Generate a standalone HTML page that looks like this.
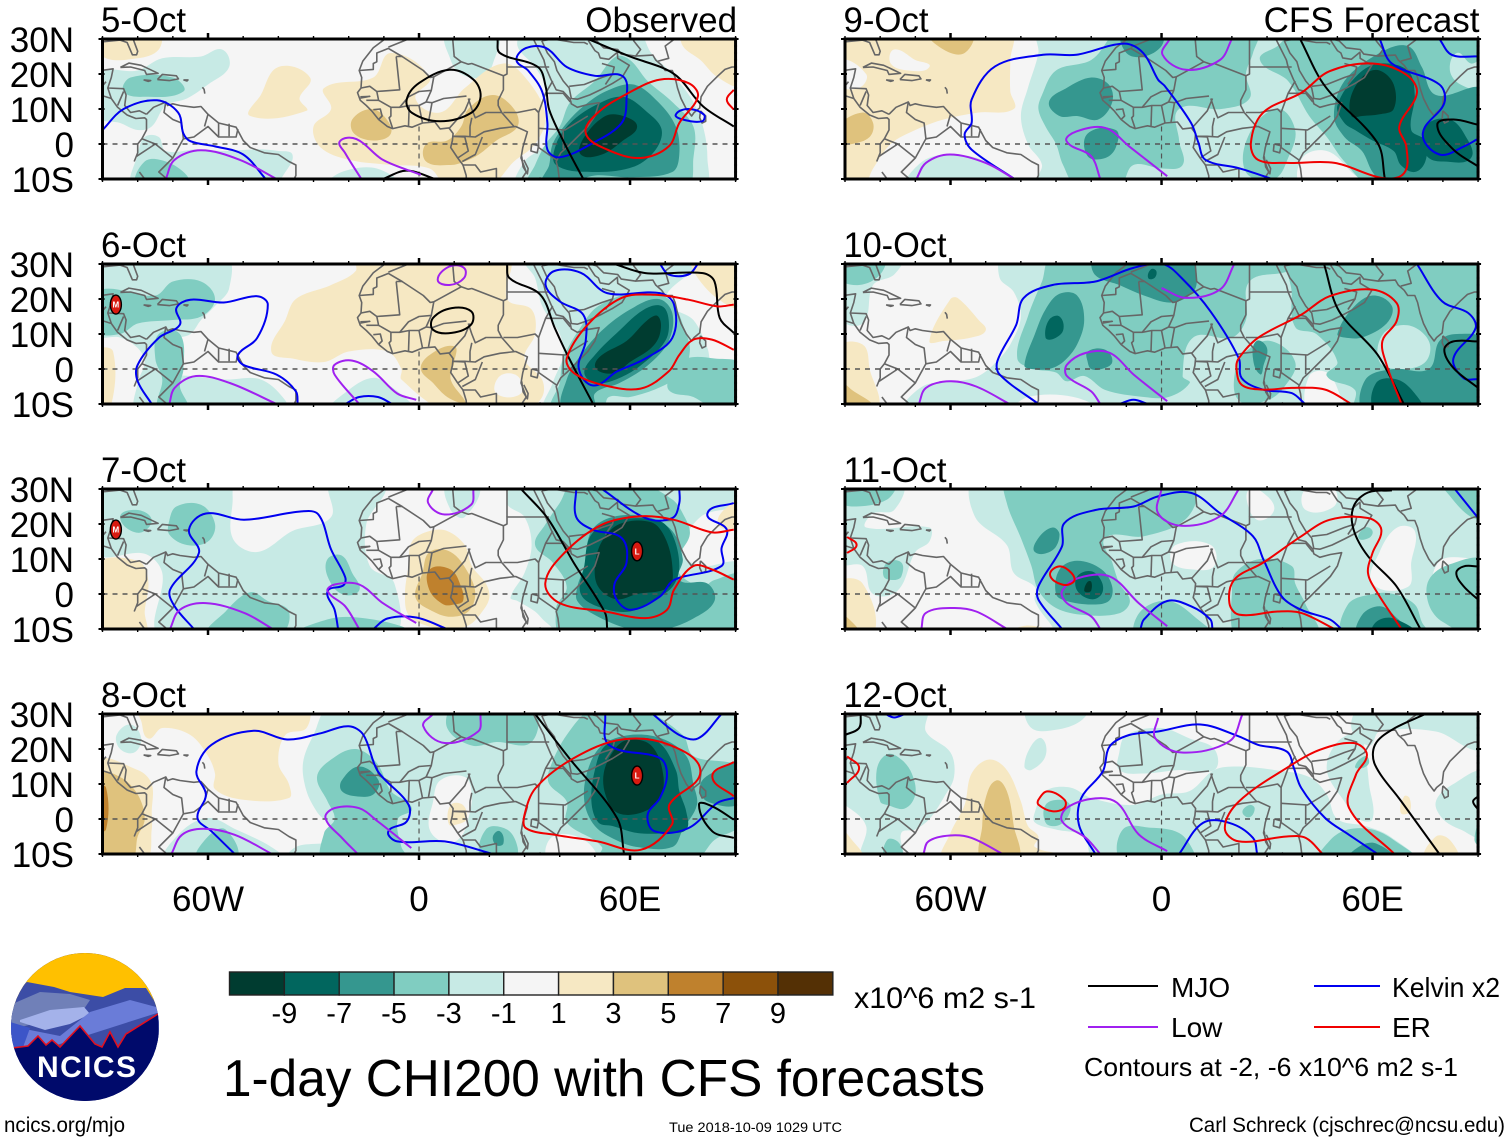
<!DOCTYPE html>
<html lang="en">
<head>
<meta charset="utf-8">
<title>1-day CHI200 with CFS forecasts</title>
<style>
html,body{margin:0;padding:0;background:#fff;width:1510px;height:1142px;overflow:hidden}
svg{display:block;font-family:"Liberation Sans",sans-serif}
</style>
</head>
<body>
<svg id="chart" xmlns="http://www.w3.org/2000/svg" width="1510" height="1142" viewBox="0 0 1510 1142">
  <rect width="1510" height="1142" fill="#fff"/>
  <g id="panels"></g>
  <g id="colorbar"></g>
  <text x="854" y="1008" font-size="29.5" textLength="182" lengthAdjust="spacingAndGlyphs">x10^6 m2 s-1</text>
  <text x="223" y="1096" font-size="52" textLength="762" lengthAdjust="spacingAndGlyphs">1-day CHI200 with CFS forecasts</text>

  <g>
    <line x1="1088" x2="1158" y1="986" y2="986" stroke="#000" stroke-width="2"/>
    <text x="1171" y="997" font-size="28">MJO</text>
    <line x1="1314" x2="1380" y1="986" y2="986" stroke="#0000f0" stroke-width="2"/>
    <text x="1392" y="997" font-size="28" textLength="108" lengthAdjust="spacingAndGlyphs">Kelvin x2</text>
    <line x1="1088" x2="1158" y1="1027" y2="1027" stroke="#a020f0" stroke-width="2"/>
    <text x="1171" y="1037" font-size="28">Low</text>
    <line x1="1314" x2="1380" y1="1027" y2="1027" stroke="#f00000" stroke-width="2"/>
    <text x="1392" y="1037" font-size="28">ER</text>
    <text x="1084" y="1076" font-size="26" textLength="374" lengthAdjust="spacingAndGlyphs">Contours at -2, -6 x10^6 m2 s-1</text>
  </g>

  <g>
    <clipPath id="logoClip"><circle cx="85" cy="1027" r="74"/></clipPath>
    <g clip-path="url(#logoClip)">
      <rect x="10" y="950" width="150" height="155" fill="#000a6b"/>
      <rect x="10" y="950" width="150" height="60" fill="#ffc000"/>
      <path d="M10 995 L27 982 L54 987 L70 992 L103 997 L125 988 L146 988 L160 1010 L160 1050 L10 1050Z" fill="#3c4da6"/>
      <path d="M10 1005 L40 992 L70 994 L90 1000 L82 1012 L40 1022 L10 1030Z" fill="#7080b8"/>
      <path d="M20 1020 L50 1010 L84 1007 L90 1014 L70 1024 L45 1030 L20 1022Z" fill="#a4b2ea"/>
      <path d="M10 1025 L30 1030 L60 1036 L90 1012 L130 1000 L160 1008 L160 1012 L10 1060Z" fill="#6a7cd8"/>
      <path d="M10 1022 L30 1028 L22 1050 L10 1052Z" fill="#3c55c8"/>
      <path d="M12 1048 L28 1046 L38 1036 L46 1045 L52 1040 L60 1047 L80 1026 L95 1044 L102 1047 L110 1032 L118 1047 L126 1034 L158 1014 L160 1110 L10 1110Z" fill="#000a6b"/>
      <path d="M12 1048 L28 1046 L38 1036 L46 1045 L52 1040 L60 1047 L80 1026 L95 1044 L102 1047 L110 1032 L118 1047 L126 1034 L158 1014" fill="none" stroke="#e01020" stroke-width="1.6"/>
    </g>
    <text x="37" y="1077" font-size="30" font-weight="700" fill="#fff" textLength="99" lengthAdjust="spacing">NCICS</text>
  </g>

  <text x="4" y="1132" font-size="21" textLength="121" lengthAdjust="spacingAndGlyphs">ncics.org/mjo</text>
  <text x="669" y="1132" font-size="14" textLength="173" lengthAdjust="spacingAndGlyphs">Tue 2018-10-09 1029 UTC</text>
  <text x="1189" y="1132" font-size="21" textLength="316" lengthAdjust="spacingAndGlyphs">Carl Schreck (cjschrec@ncsu.edu)</text>
</svg>

<script>
/* ---------- categories and ticks ---------- */
const panelDates = ['5-Oct','6-Oct','7-Oct','8-Oct','9-Oct','10-Oct','11-Oct','12-Oct'];
const latTickValues = [30,20,10,0,-10];
const latTickLabels = ['30N','20N','10N','0','10S'];
const lonTickValues = [-60,0,60];
const lonTickLabels = ['60W','0','60E'];
const colorbarTicks = [-9,-7,-5,-3,-1,1,3,5,7,9];
const colorbarLevels = [-10,-8,-6,-4,-2,0,2,4,6,8,10];
const levelColors = {'-10':'#003c30','-8':'#01665e','-6':'#35978f','-4':'#80cdc1','-2':'#c7eae5','0':'#f5f5f5','2':'#f6e8c3','4':'#dfc27d','6':'#bf812d','8':'#8c510a','10':'#543005'};
const seriesColors = {mjo:'#000000',kelvin:'#0000f0',low:'#a020f0',er:'#f00000'};

/* ---------- geography, [lon,lat] ---------- */
const coastlines = [
 [[-9.7,30],[-13,27.5],[-16,23.7],[-17,21],[-16.3,19],[-16.5,16],[-17.5,14.7],[-16.7,12.5],[-15,11],[-13.5,9.5],[-11.5,7],[-9,5],[-7.5,4.4],[-4,5.2],[-2,4.8],[1,6],[4.5,6.3],[6,4.3],[8.5,4.6],[9.7,3],[9.5,1],[9,-1],[11,-4],[12.5,-6],[13.4,-9],[13.5,-11]],
 [[40,-11],[39.5,-7],[39,-5],[40.3,-2.5],[42,-1],[45,2],[48,5],[50,8],[51.2,11.8],[48,11.3],[45,10.5],[43.3,11.5],[43,12.8],[41,15],[39,15.5],[37.5,18.5],[36,22],[35.5,24],[34,27],[32.6,29.8],[32.6,31]],
 [[34.9,29.5],[36.5,26],[38.5,23.5],[39.2,21],[41,18],[42.7,16],[43.3,13],[45,12.8],[48.5,14],[52,15.7],[55,17.3],[57.7,19],[59.8,22.5],[56.5,24.5],[56.4,26.2],[54,24.2],[51.5,24.6],[51,26],[50,26.7],[48.2,29.5],[48.5,30],[50.5,29.5],[52.5,27.5],[56.5,27],[57.5,25.7],[61.5,25.1],[66.5,25.4],[67.3,24],[69,22.5],[70,21],[72,21],[72.8,19],[73.5,16],[74.5,13],[76,10],[77.5,8],[78.2,9],[79.8,10.3],[80.2,13.5],[82,16.5],[85,19.5],[87,21.3],[89,22],[91,22]],
 [[80,9.5],[81.5,8],[81.5,6.5],[80.5,6],[79.8,7.5],[80,9.5]],
 [[-81,-5],[-80,-2.5],[-80,0],[-78.8,1.5],[-77.5,4],[-77.5,7],[-78,7.5],[-80.5,7.3],[-83,8.3],[-85.7,10.5],[-87.5,13],[-90,13.8],[-92,14.5]],
 [[-79.5,-8],[-78,-10],[-77,-12]],
 [[-77.5,8.5],[-79.5,9.5],[-82,9],[-83.7,11],[-83.3,14],[-84,15.8],[-88.5,16],[-87.5,19],[-87,21.5],[-90.4,21],[-92,19]],
 [[-77.5,8.5],[-75.5,10.5],[-72,12],[-71.5,11],[-70,11.5],[-68,11],[-64,10.5],[-62,10.7],[-60,8.5],[-57,6],[-52,4.8],[-50,1],[-48,-1],[-44,-2.5],[-40,-3],[-37,-5],[-35,-6],[-35,-9],[-36,-11]],
 [[-92,29.5],[-90,29.2],[-85,29.7],[-83,29],[-81.5,25.5],[-80.3,25.5],[-80,26.5],[-81.3,30]],
 [[-84.9,21.9],[-82.5,23.1],[-79,22.5],[-74.2,20.2],[-77.5,19.9],[-78,21],[-82,22],[-84.9,21.9]],
 [[-74.4,18.4],[-73,19.9],[-69,19.5],[-68.4,18.6],[-71,18.1],[-74.4,18.4]],
 [[-78.3,18.3],[-76.3,18.1],[-77,17.9],[-78.3,18.3]],
 [[-67,18.3],[-65.7,18.3],[-66,18],[-67,18.3]],
 [[-61.6,16.2],[-61.1,15.6],[-60.9,14.4]],
 [[32,0],[34,-0.5],[33.6,-2.5],[31.8,-2],[32,0]],
 [[29.2,-3.5],[29.6,-6.5],[30.8,-8.5],[31,-7],[29.8,-4.5]],
 [[34.3,-9.5],[34.8,-11],[34,-11]]
];
const countryBorders = [
 [[-17,21],[-13,21.3],[-13,23],[-12,23.5],[-12,26],[-8.7,27.3],[-4.8,25],[-6.5,25]],
 [[-4.8,25],[1.2,21],[3.2,19],[4.2,19.2],[12,23.5],[14,22.8],[15,23],[24,19.5],[25,20],[25,22],[37,22]],
 [[25,22],[25,31]],[[9.5,31],[10,25],[12,23.5]],[[-8.7,27.7],[-3,30],[-2,31]],
 [[-12,15],[-5.5,15.5],[-6.5,25]],[[-12,15],[-11.5,12.5],[-8,10.5],[-8,8],[-8.5,7.5],[-7.5,4.4]],
 [[-16.5,16],[-14,16.5],[-12,15]],[[-15,12.5],[-11.5,12.5]],[[-16.7,13.5],[-14,13.6],[-16.7,13.1]],
 [[-13,9.8],[-11,10],[-10.5,8],[-11.5,7]],
 [[-8,10.5],[-5.5,10.5],[-2.8,11],[0,11],[2,12],[3.7,11.8]],[[-5.5,10.5],[-3,13.5],[0,15],[3.5,15.3],[4.2,19.2]],
 [[-3,5],[-2.8,11]],[[0,11],[1,6]],[[2.7,6.3],[3.7,11.8],[7,13],[13.5,13.7]],[[2,12],[3.5,15.3]],
 [[8.7,4.6],[13,9.5],[14.5,13]],[[14,13],[15,10],[16,7.5],[19,9],[23.5,9]],[[24,19.5],[24,15.5],[22.5,12.5],[22.5,11],[23.5,9],[27,5]],
 [[14.5,5],[15,7.5]],[[9.7,2.2],[13,2.2],[16,2],[18.5,3.5],[23,4.5],[27.5,5],[30.8,3.5],[29.5,-1],[29,-4],[30.5,-8],[28.5,-11]],
 [[24,9],[28,9],[33,10],[34,9]],[[34,9],[36,14.5],[38,18]],[[36,14.5],[41,14.5],[43,12]],[[34,4.5],[41.5,4],[48,8]],[[41,-1.5],[41,4]],[[34,-1],[34,4.5],[34,9]],[[34,-1],[39.3,-4.7]],
 [[14.5,5],[14.5,2.2]],[[9.7,2.2],[13,2],[14,-2],[11,-4]],[[12.3,-5],[16,-3],[18,2]],[[12.3,-6],[16,-6],[17.5,-8],[22,-7],[22,-11]],[[22,-11],[28.5,-11]],
 [[34.9,29.5],[38,30],[44,29],[47,29],[48,28.5]],[[42.7,16.5],[47,17],[52,19],[55,20],[55.5,22],[52,23]],[[55,20],[53,17]],
 [[61.5,25],[63,27],[61,29.5],[62,31]],[[68,23.7],[71,24.5],[70,28],[74,31]],
 [[-72,12],[-72.5,9],[-70,7],[-67.5,6],[-67,1.5],[-64,2],[-60,5],[-57,2],[-52,2],[-51.5,4.3]],[[-60,8.5],[-61,5]],[[-57,6],[-57,2]],[[-54,5.8],[-54,2.2]],
 [[-78.8,1.5],[-75,0],[-80.3,-3.5]],[[-75,0],[-70,-4],[-73,-7],[-74,-8],[-70.5,-11]],[[-70,-4],[-67,1.5]],
 [[-92,14.5],[-90.5,16],[-89,17.8]],[[-88.5,16],[-87.5,13]],[[-84,15],[-85.7,11]]
];

/* ---------- 5-Oct ---------- */
const oct5Fill = [
 [-2,[[28,-12],[30,-5],[36,0],[36,6],[37,14],[33,22],[28,28],[30,32],[62,32],[66,26],[72,20],[78,12],[81,4],[82,-4],[81,-12]]],
 [-2,[[-92,20],[-80,21],[-73,24.5],[-62,25],[-56,27],[-54,22],[-60,17],[-66,13],[-72,11],[-76,5],[-80,4],[-85,6],[-92,8]]],
 [-2,[[-81,-12],[-80,-3],[-78,2],[-74,2],[-72,-2],[-63,-1.5],[-56,-2],[-46,-1.5],[-40,-2],[-36,-3],[-38,-8],[-42,-12]]],
 [-2,[[-26,-12],[-22,-8],[-12,-7],[-6,-12]]],
 [-2,[[8,32],[9,24],[12,20],[18,19],[21,23],[22,32]]],
 [-4,[[-82,19],[-70,19],[-67,15],[-78,13.5],[-84,15]]],
 [-4,[[-80,-12],[-78,-5],[-72,-5],[-66,-9],[-66,-12]]],
 [2,[[-27,16],[-13,19],[-8,26],[3,19],[-1,13],[6,9],[13,16],[24,23],[31,18],[36,8],[33,0],[27,-5],[20,-12],[8,-12],[3,-7],[-8,-6],[-20,-4.5],[-28,-1],[-30,5],[-25,10]]],
 [2,[[-40,22],[-31,19],[-34,13],[-32,9.5],[-48,8],[-45,14]]],
 [2,[[-92,32],[-74,32],[-74,27],[-80,24.5],[-90,25]]],
 [2,[[75,32],[75,28],[80,24],[85,19],[92,17],[92,32]]],
 [4,[[-18.5,3],[-19,7],[-14,10],[-10,8],[-8,3],[-13,1]]],
 [4,[[2,-5],[2,0],[8,1],[12,5],[14,10],[21,14],[27,10],[28,5],[22,1],[17,-3],[13,-5],[9,-6]]],
 [-4,[[31,-12],[33,-6],[36,0],[40,5],[43,12],[50,18],[56,25],[60,24],[65,18],[72,12],[78,5],[78,-4],[76,-12]]],
 [-6,[[35,-12],[37,-6],[38,0],[42,6],[47,11],[53,15],[61,17],[68,12],[73,5],[74,-3],[72,-8],[60,-9.5],[50,-9],[44,-11],[42,-12]]],
 [-8,[[39,-6],[39,0],[43,6],[50,11],[58,13.5],[65,9],[69,4],[67,-2],[61,-6.5],[50,-8]]],
 [-10,[[46,-3],[47,2],[53,8],[58,8],[62,5],[58,1],[52,-3]]]
];
const oct5Lines = [
 ['kelvin',0,[[-90,4],[-84,10],[-74.5,12.5],[-68.5,9],[-67,3],[-65,0.8],[-58,-0.7],[-50,-3],[-43.6,-10]]],
 ['kelvin',1,[[27.7,24],[30.4,27.4],[36,27.5],[42,22],[50,19.5],[58,19.3],[59,12.7],[57.6,6],[49.5,0.3],[40,-3.8],[36.5,-1.6],[36.5,6],[35,15],[31,21]]],
 ['kelvin',1,[[73,8.4],[76.5,10],[81,8.4],[80.5,6.5],[75,7]]],
 ['mjo',0,[[22.3,30],[23,26],[33.8,22],[36,16.5],[37,9.8],[41.3,0.3],[46.7,-10]]],
 ['mjo',0,[[48,30],[60,25],[72.5,20],[80.7,10.8],[89.5,5]]],
 ['mjo',1,[[0,17.4],[8.7,21.2],[15.5,18.4],[17.5,13.6],[14.8,8.9],[6,6.5],[-2,8.9],[-3.5,12.7]]],
 ['mjo',0,[[-10.3,-10],[-3.5,-7.6],[4.6,-10]]],
 ['low',0,[[-72,-10],[-69.5,-4.5],[-62,-1.8],[-51,-4.5],[-40.5,-10]]],
 ['low',0,[[-16.4,-10],[-21,-2.6],[-22.5,0.8],[-17.8,1.4],[-10.3,-4.5],[0.5,-8.8]]],
 ['er',1,[[59.6,14.6],[68.5,18.4],[76.6,17.4],[79.3,13.6],[74,6],[71,-0.7],[63,-4],[53.5,-1.6],[47.4,3.1],[50.8,8.9]]],
 ['er',0,[[89.5,15.5],[87.5,12.7],[89.5,9.8]]]
];
const oct5Storms = [];

/* ---------- 6-Oct ---------- */
const oct6Fill = [
 [-2,[[36,-12],[38,-4],[41,4],[40,10],[35,18],[33,26],[30,32],[42,32],[80,32],[70,20],[78,14],[82,6],[84,0],[92,0],[92,-12]]],
 [-2,[[-92,32],[-55,32],[-54,23],[-58,18],[-62,14],[-65,10],[-70,8],[-72,2],[-72,-1],[-65,-2],[-55,-3],[-45,-3],[-38,-9],[-38,-12],[-80,-12],[-80,-4],[-78,2],[-80,6],[-85,9],[-92,10]]],
 [-2,[[-25,-12],[-20,-6],[-13,-2.5],[-8,-5],[-2,-10],[-1,-12]]],
 [2,[[-42,5],[-38,14],[-35,20],[-25,24],[-18,28],[-18,32],[25,32],[25,20],[32,17],[33,10],[30,3],[35,-3],[35,-8],[30,-12],[8,-12],[-5,-3],[-5,0],[-9,5],[-20,5],[-27,2],[-36,3]]],
 [0,[[22,-7],[23,-2],[28,-2],[29,-7]]],
 [2,[[-92,5],[-87,5],[-88,-12],[-92,-12]]],
 [2,[[78,32],[78,28],[85,20],[92,18],[92,32]]],
 [4,[[0.5,0],[3,4],[10,6.5],[10,2],[9,-3],[13,-9],[13,-10],[8,-8],[4,-4]]],
 [-4,[[-92,22],[-75,21],[-70,25],[-62,25],[-58,20],[-62,15],[-70,14],[-80,13],[-85,10],[-92,11]]],
 [-4,[[-74,10],[-68,10],[-67,0],[-68,-5],[-66,-12],[-74,-12],[-73,-3],[-75,3]]],
 [-4,[[38,-12],[40,-4],[41,3],[46,12],[51,18],[62,22],[71,20],[76,10],[77,5],[75,-1],[69,-5],[60,-8],[54,-8],[52,-12]]],
 [-4,[[72,-1],[76,3],[84,3],[92,1],[92,-12],[85,-12],[78,-8],[71,-6]]],
 [-6,[[41,-12],[42,-3],[46,4],[52,11],[60,17],[68,20],[72,16],[71,8],[65,1],[57,-4],[50,-7],[50,-12]]],
 [-8,[[47,-1],[50,4],[57,11],[64,17],[69,18],[71,14],[70,8],[63,1],[56,-3],[50,-4]]],
 [-10,[[50,1],[52,4],[59,8],[65,14],[68,15],[68.5,10],[66,6],[60,2],[56,-1],[52,-1]]]
];
const oct6Lines = [
 ['kelvin',0,[[-76,-10],[-80,-3.5],[-80,1.2],[-74,8.9],[-68,12.7],[-69,17.4],[-65,19.8],[-55.5,19],[-46,20.8],[-43,18.4],[-46,8.9],[-51.5,4],[-50,1.2],[-40.5,-1.6],[-35,-6.4],[-34.5,-10]]],
 ['kelvin',0,[[-21,-10],[-17,-8],[-11.7,-8],[-7.6,-10]]],
 ['kelvin',1,[[36,24],[38.5,28],[46,27.5],[53.5,21.7],[68.5,21.7],[72.5,18.4],[72,8.9],[64.4,3],[56.3,-0.7],[49.5,-4.7],[45.4,0.3],[47.4,8],[46.7,15.5],[40,19.3]]],
 ['kelvin',0,[[68.5,30],[71,27],[76.6,27],[79.3,30]]],
 ['mjo',0,[[25,30],[25.7,26],[34.5,21.2],[38.6,11.7],[42.7,3],[49.5,-10]]],
 ['mjo',0,[[55.6,30],[64.4,27.4],[80.7,27.4],[84,25],[85.5,14.6],[89.5,10.3]]],
 ['mjo',1,[[4,14.6],[9.3,17.4],[14.8,16.5],[14.8,12.7],[9.3,10.3],[4,11.2]]],
 ['low',0,[[-71,-10],[-69.5,-5.4],[-63.4,-2],[-53.8,-4],[-40.5,-10]]],
 ['low',0,[[-17,-10],[-24,-1.6],[-24,1.2],[-19,2.4],[-13,-0.7],[-6.2,-7],[-0.8,-8.8]]],
 ['low',1,[[5.3,25.5],[8.7,29.3],[12.8,28.9],[12.8,26],[8.7,24]]],
 ['er',0,[[89.5,18.4],[84.8,17.9],[76.6,19.8],[67,21.2],[57.6,20.3],[48,12.7],[42,3],[44,-1.1],[52,-4.5],[63,-5.6],[71,-0.7],[74,4],[78,8.4],[83.3,8.4],[89.5,5.5]]]
];
const oct6Storms = [['M',-86.2,18.4]];

/* ---------- 7-Oct ---------- */
const oct7Fill = [
 [-2,[[-92,32],[-54,32],[-53,28],[-53,16],[-46,12],[-36,18],[-25,22],[-25,32],[-10,32],[-15,20],[-14,8],[-7,3],[-8,-12],[-73,-12],[-73,6],[-78,11.5],[-92,12]]],
 [-2,[[8,32],[9,24],[13,22],[17,32]]],
 [-2,[[26,-1],[30,6],[32,14],[30,22],[25,26],[28,32],[92,32],[92,26],[80,22],[75,12],[80,8],[92,8],[92,-12],[42,-12],[36,-8],[33,-5],[28,-2]]],
 [-4,[[-71,21],[-69,25],[-62,25.5],[-58,20],[-60,15],[-66,14],[-71,17]]],
 [-4,[[-85,22],[-80,24],[-76,21],[-80,17.5]]],
 [-4,[[-26,10],[-22,11],[-19,6],[-17,1],[-22,0],[-26,5]]],
 [-4,[[-60,-12],[-55,-5],[-48,0.5],[-43,-2],[-37,-5],[-40,-12]]],
 [-4,[[-35,-12],[-25,-7],[-15,-7],[-3,-10],[-3,-12]]],
 [2,[[-92,8],[-80,9.5],[-77,4],[-78,-5],[-78,-12],[-92,-12]]],
 [2,[[-4,0],[-3,8],[-2,15],[3,18],[8,18],[13,14],[15,8],[19,3],[20,-1],[18,-5],[14,-9],[8,-10],[2,-9],[-3,-6]]],
 [2,[[85,20],[90,27],[92,27],[92,20]]],
 [4,[[-1,-1],[1,6],[3,12],[9,12],[14,6],[16,0],[14,-5],[9,-6.5],[4,-5]]],
 [6,[[3,7],[9,7],[12,2],[12.5,-2],[10,-3],[7,-3],[3,1]]],
 [-4,[[41,-12],[39,-4],[42,2],[38,9],[33,14],[36,20],[40,26],[44,32],[62,32],[72,27],[75,23],[77,17],[73,8],[80,2],[84,4],[92,5],[92,-12]]],
 [-6,[[45,-2],[45,2],[47,8],[49,18],[55,22],[65,22],[72,18],[75,10],[74,4],[82,3],[84,-2],[78,-7],[70,-10],[60,-10],[50,-6]]],
 [-8,[[46,0],[47,8],[49,17],[56,21],[68,21],[72,17],[74,8],[72,2],[66,-2],[60,-5],[52,-4]]],
 [-10,[[51,2],[50,8],[52,15],[57,20],[66,20.5],[70,16],[72,8],[71,2],[62,0],[56,-1.5]]]
];
const oct7Lines = [
 ['kelvin',0,[[-64,-10],[-69.5,-3.5],[-70.8,1.2],[-62.6,11.7],[-65.4,18.4],[-60.6,23],[-49.7,21.2],[-33.4,23.6],[-28.6,22.7],[-25,12.7],[-21,4.8],[-21.5,2.5],[-26,0.8],[-24,-4.5],[-23,-10]]],
 ['kelvin',0,[[-13,-10],[-9,-7],[-0.8,-6.7],[8,-10]]],
 ['kelvin',0,[[44.7,30],[44.7,22],[49.3,18.4],[57.6,16],[59,8.9],[55.6,3],[56.2,-1.6],[60.3,-4.5],[68.5,-0.7],[72.5,4],[86,8],[86,13],[87.5,18.4],[82,23],[89.5,26]]],
 ['kelvin',0,[[52,30],[64.4,21.7],[72,21.7],[74,26],[74,30]]],
 ['mjo',0,[[29,30],[36.5,21.7],[44,8.9],[52.9,-5.4],[53.5,-10]]],
 ['low',0,[[-70.8,-10],[-68,-4.5],[-60.6,-2.6],[-49.7,-5.4],[-41.6,-10]]],
 ['low',0,[[-17,-10],[-21,-3.5],[-26,0.8],[-24,2.7],[-17,2.7],[-10.3,-2.6],[-0.8,-8.3]]],
 ['low',0,[[4,30],[2.6,26],[7.3,22.7],[14.8,25.5],[15.5,30]]],
 ['er',0,[[89.5,18.4],[83.3,17.6],[72.5,21.2],[63,22.2],[52,19.8],[41.3,11.7],[35.9,3.1],[40,-2.6],[53,-5],[64.4,-6.9],[70.5,-4.5],[72.5,1.2],[78,8],[83.3,7],[89.5,4.1]]]
];
const oct7Storms = [['M',-86.2,18.4],['L',62,12.2]];

/* ---------- 8-Oct ---------- */
const oct8Fill = [
 [-2,[[-86,24],[-82,27],[-79,23],[-81,19],[-85,20]]],
 [-2,[[-25,32],[-30,24],[-33,16],[-32,8],[-29,2],[-24,-5],[-35,-8],[-38,-12],[92,-12],[92,32]]],
 [-2,[[-72,-12],[-68,-4],[-60,0.3],[-52,-3],[-42,-8],[-38,-12]]],
 [0,[[3,-3],[4,5],[6,11],[13,12],[15,7],[14,0],[12,-5],[8,-7]]],
 [0,[[37,-12],[38,-5],[47,-6],[50,-12]]],
 [2,[[-80,32],[-32,32],[-32,26],[-38,24],[-40,16],[-37,10],[-37,6],[-50,5.5],[-58,8.5],[-58,13],[-60,18],[-65,24],[-73,26],[-77,23],[-79,28]]],
 [2,[[-92,16],[-80,14],[-76,10],[-76,2],[-76,-3],[-78,-12],[-92,-12]]],
 [2,[[8.5,-1.5],[9,4],[12.5,4],[13.5,0],[11,-1.5]]],
 [4,[[-92,13],[-85,12],[-80,7],[-78,0],[-80,-5],[-82,-12],[-92,-12]]],
 [6,[[-92,9],[-89,9],[-89,-3],[-92,-3]]],
 [-4,[[10,32],[8,26],[15,21],[22,22],[32,22],[32,32]]],
 [-4,[[42,-1],[42,5],[37,10],[37,14],[42,24],[50,32],[62,32],[75,24],[78,18],[92,14],[92,-1],[84,-6],[78,-12],[50,-12],[52,-8]]],
 [-4,[[18,-12],[19,-3],[25,-3],[28,-8],[27,-12]]],
 [-4,[[-29,12],[-25,17],[-18,20],[-12,16],[-8,8],[-2,3],[-6,0],[-5,-8],[-3,-12],[-27,-12],[-27,-4],[-24,0],[-26,5]]],
 [-4,[[-63,-12],[-60,-5],[-55,-3],[-52,-12]]],
 [-6,[[-22,11],[-17,15],[-11.5,11],[-13,7],[-18,6.5],[-22,8]]],
 [-6,[[21,-5],[23,-3.5],[24,-7],[22,-7.5]]],
 [-6,[[50,-2],[47,5],[48,14],[52,21],[60,24],[69,23],[76,18],[78,10],[79,4],[75,-3],[72,-8],[62,-8],[56,-6]]],
 [-6,[[82,5],[80,10],[85,14],[92,16],[92,5]]],
 [-8,[[51,-1],[49,5],[50,14],[53,21],[60,23],[68,22],[73,14],[74,8],[76,2],[76,-3],[71,-4],[62,-4],[55,-2]]],
 [-10,[[53,7],[52.5,13],[55,19],[59,22.5],[66,21],[69.5,12],[68,5],[62,1.5],[56,2]]]
];
const oct8Lines = [
 ['kelvin',0,[[-52.4,-10],[-59,-3.5],[-63,0.3],[-60.6,7],[-63.3,13.6],[-59,21.2],[-47,25.2],[-37.5,22.7],[-28,24.5],[-20,26.5],[-15.8,24],[-11.7,13.6],[-3,4.1],[-3.5,-0.7],[-8.7,-3.5],[-6.2,-6.4],[7.3,-6.4],[21,-10]]],
 ['kelvin',0,[[52.9,30],[54,21.2],[68.5,17.4],[70.5,12.7],[68.5,6],[65,1.2],[67,-3.5],[76.6,-2.6],[84.8,4.6],[89.5,6]]],
 ['kelvin',0,[[66.4,30],[74,24],[79.3,23],[86,30]]],
 ['mjo',0,[[33,30],[42.7,17.4],[56.3,0.3],[58.3,-10]]],
 ['mjo',0,[[89.5,-0.2],[83.4,3.6],[79.6,4.1],[83.4,-3.5],[89.5,-5.4]]],
 ['low',0,[[-70.4,-10],[-67.4,-4.5],[-61.3,-2.8],[-52.4,-4.5],[-41.8,-10]]],
 ['low',0,[[-17.4,-10],[-21.9,-5.4],[-26.6,0.3],[-24,3.1],[-17.1,3.1],[-11.7,-0.7],[-2.2,-8.3]]],
 ['low',0,[[4,30],[1.2,26.5],[7.3,21.7],[16.8,25],[17.5,30]]],
 ['er',1,[[30,1.2],[33.2,8.9],[44,17.4],[57.6,22.7],[71.2,21.2],[80,13.6],[71.2,4.1],[71.9,-1.6],[63,-8.8],[50.8,-6.4],[38.6,-4.5],[30.4,-2.6]]],
 ['er',0,[[89.5,16.3],[83.4,12.2],[89.5,6.5]]]
];
const oct8Storms = [['L',62,12.4]];

/* ---------- 9-Oct ---------- */
const oct9Fill = [
 [-2,[[-35,32],[-35,26],[-38,16],[-40,8],[-38,0],[-34,-6],[-36,-12],[92,-12],[92,32]]],
 [-2,[[-72,-12],[-68,-5],[-60,-3],[-50,-5],[-43,-12]]],
 [0,[[40,-12],[40,-4],[47,-2],[54,-8],[57,-12]]],
 [2,[[-92,32],[-43,32],[-43,24],[-43,15],[-42,10],[-52,9],[-62,7],[-70,4],[-77,0],[-82,-7],[-85,-12],[-92,-12]]],
 [0,[[-76,27],[-70,24],[-66,22],[-72,21],[-77,23]]],
 [0,[[-92,24],[-84,20],[-86,16],[-92,17]]],
 [4,[[-66,32],[-62,27],[-56,26],[-54,32]]],
 [4,[[-92,0],[-92,5],[-85,9],[-82,6],[-83,2],[-88,0]]],
 [-4,[[-34,14],[-30,21],[-20,24],[-15,30],[-14,32],[27,32],[26,26],[24,20],[25,13],[17,10],[5,10],[5,1],[6,-6],[0,-7],[-8,-6],[-12,-12],[-24,-12],[-28,-6],[-30,0],[-33,5],[-35,10]]],
 [-4,[[28,24],[33,28],[38,32],[92,32],[92,-12],[60,-12],[52,-5],[47,2],[42,8],[36,18]]],
 [-2,[[84,26],[88,23],[92,24],[92,16],[85,17],[82,21]]],
 [-4,[[24,-8],[25,3],[33,10],[38,4],[36,-4],[32,-10]]],
 [-6,[[-32,12],[-27,16],[-20,19],[-15,17],[-14,12],[-18,7],[-24,8],[-29,8]]],
 [-6,[[-21,3],[-13,4],[-13,-1],[-16,-4],[-21,-3.5]]],
 [-6,[[-11,32],[-10,26],[-5,25],[0,28],[0,32]]],
 [-6,[[49,8],[52,18],[62,26],[70,28],[74,22],[78,14],[92,15],[92,-12],[64,-12],[60,-8],[57,-2],[52,2]]],
 [-8,[[50,11],[56,20],[62,23],[70,21],[72,14],[71,4],[75,1],[75,-5],[72,-8],[68,-6],[66,-2],[60,1],[55,4],[52,6]]],
 [-8,[[74,0],[76,6],[82,7],[86,3],[88,-4],[80,-5],[76,-4]]],
 [-10,[[54,8],[54,14],[58,20],[62,21],[66,17],[66,10],[62,8.5],[57,8]]]
];
const oct9Lines = [
 ['kelvin',0,[[-41.8,-10],[-54,-1.6],[-56,2.7],[-54,6],[-54,12.7],[-47.3,22.2],[-33.7,25.5],[-24.2,25.5],[-10.6,28.7],[-5.2,26],[-1,18.4],[1,16.5],[8.4,6],[10.5,0.3],[12.5,-4.5],[22,-6.9],[31.5,-10]]],
 ['kelvin',0,[[62,30],[65.5,23],[79,17],[80.4,11.7],[74.3,3],[79,-3],[86,-0.7],[90,1.5]]],
 ['kelvin',0,[[79,30],[82.5,25.5],[90,25]]],
 ['mjo',0,[[39.4,30],[46.5,16.5],[61.4,0.3],[63.5,-10]]],
 ['mjo',0,[[90,5.5],[83,7],[78.4,5.5],[83,-1.6],[90,-6.4]]],
 ['low',0,[[-69.7,-10],[-67,-5.4],[-60.2,-3],[-50,-5.4],[-41.8,-10]]],
 ['low',0,[[-17.4,-10],[-20,-3.5],[-27,0.8],[-24.2,3.6],[-16,4.6],[-9.2,-0.7],[1.6,-9.2]]],
 ['low',0,[[2.3,30],[0.3,25.5],[7,21.2],[16.6,24],[20,30]]],
 ['er',1,[[25.4,0.3],[28.8,8.9],[39.7,14.6],[47.8,20.8],[60,23],[69.6,19.8],[72.6,14.6],[67.6,5],[69.6,-0.7],[69,-8.3],[62.8,-9.7],[49.2,-5.4],[35.6,-5.4],[27.4,-4.5]]]
];
const oct9Storms = [];

/* ---------- 10-Oct ---------- */
const oct10Fill = [
 [-2,[[-45,32],[-46,26],[-42,22],[-40,15],[-43,7],[-47,2],[-52,-2],[-58,-3.5],[-68,-5],[-73,-12],[92,-12],[92,32]]],
 [0,[[-42,-12],[-38,-8],[-25,-8],[-18,-12]]],
 [0,[[42,-12],[42,-2],[47,-1],[51,-8],[52,-12]]],
 [-2,[[-92,32],[-74,32],[-76,27],[-82,24],[-85,13],[-92,15]]],
 [-4,[[-92,32],[-79,32],[-80,27],[-86,24],[-92,26]]],
 [2,[[-66,8],[-60,20],[-58,20.3],[-52,14],[-50,11],[-54,9],[-62,8]]],
 [2,[[-92,6],[-85,7],[-83,0],[-81,-12],[-92,-12]]],
 [4,[[-92,-4],[-88,-6],[-82,-12],[-92,-12]]],
 [-4,[[-41,3],[-38,15],[-34,25],[-31,32],[40,32],[36,28],[25,25],[24,14],[20,9],[9,9],[6,-2],[8,-4],[2,-8],[-5,-8],[-16,-6],[-22,-2],[-27,-3.5],[-30,-1],[-36,0]]],
 [-4,[[37,32],[37,22],[38,12],[44,10],[50,2],[47,-2],[55,-6],[55,-12],[92,-12],[92,32]]],
 [-2,[[62,2],[63,10],[70,12.5],[76,8],[75,2],[68,0]]],
 [-4,[[22,-9],[21,0],[24,5],[31,8],[38,2],[35,-5],[30,-9]]],
 [-6,[[-39,1],[-36,10],[-33,17],[-29,21.5],[-24,21],[-22,14],[-24,7],[-28,2],[-32,0],[-37,0]]],
 [-6,[[-19,32],[-19,27],[-12,24],[-5,21],[3,19],[9,22],[10,27],[8,32]]],
 [-6,[[-21,2],[-21,5],[-16,5.5],[-14,2],[-17,0],[-20,0]]],
 [-6,[[26,3],[27,8],[30,6],[29,1],[28,-1.5]]],
 [-6,[[50,10],[54,17],[60,21],[65.5,18],[64,13],[57,9],[52,9]]],
 [-6,[[58,-12],[58,-3],[66,0],[76,0],[79,8],[84,10],[92,8],[92,-12]]],
 [-8,[[-33,9],[-32,14],[-29,15],[-28,11],[-31,8.5]]],
 [-8,[[-3.8,26],[-3,28.5],[-1.5,28],[-2,26]]],
 [-8,[[61,-12],[61,-4],[67,-3],[72,-7],[74,-12]]]
];
const oct10Lines = [
 ['kelvin',0,[[-35,-10],[-46,-1.6],[-46.7,2.2],[-41.3,12.7],[-39.2,20.3],[-31,24],[-18.8,25],[-8,28.9],[0.3,30],[5.7,26],[13.9,16.5],[22,3],[22.8,-2.6],[28.8,-5.9],[37,-6.9],[40.8,-10]]],
 ['kelvin',0,[[-12,-10],[-8,-8.8],[-3.8,-10]]],
 ['kelvin',0,[[72.6,30],[79.8,19.3],[87.2,16],[89.3,11.7],[83,3],[85.9,-2.6],[90,-2.9]]],
 ['mjo',0,[[46.2,30],[50.5,16.5],[61.4,4.1],[68.9,-10]]],
 ['mjo',0,[[90,7.9],[83,7.9],[80.4,5.5],[83,0.3],[90,-5.4]]],
 ['low',0,[[-69,-10],[-67,-5.4],[-60.2,-3.5],[-52.7,-5],[-43.2,-10]]],
 ['low',0,[[-17.4,-10],[-20,-6.4],[-26.9,-2],[-26.9,1.2],[-21.5,4.6],[-14.7,4.6],[-7.9,-1.6],[1.6,-9.2]]],
 ['low',0,[[0,23.1],[7,20.3],[16.6,22.7],[20.7,30]]],
 ['er',0,[[68.2,-10],[64,1.2],[62.8,8],[66.8,13.6],[66.8,18.9],[60,22.7],[47.8,20.8],[39.7,15.5],[27.4,8.9],[22,3.1],[21.3,0.3],[22.8,-4.5],[28.8,-5.9],[37,-5.4],[46.5,-5.9],[54,-10]]]
];
const oct10Storms = [];

/* ---------- 11-Oct ---------- */
const oct11Fill = [
 [-2,[[-92,32],[-74,32],[-76,24],[-82,23],[-84,19],[-66,19],[-66,15],[-70,12],[-75,1],[-82,0],[-85,8],[-92,9]]],
 [-2,[[-53,32],[-53,22],[-44,14],[-42,6],[-36,2],[-36,-2],[-32,-8],[-28,-12],[92,-12],[92,0],[78,0],[77,5],[80,10],[92,12],[92,32]]],
 [0,[[25,24],[25,30],[30,28],[32,24],[28,21]]],
 [0,[[41,30],[41,24],[49,25],[49,30]]],
 [0,[[60,3],[62,12],[67,19],[72,18],[71,9],[70,2]]],
 [0,[[3,9],[4,14],[14,14],[15,8],[9,7]]],
 [-4,[[-92,32],[-76,32],[-78,27],[-88,25],[-92,27]]],
 [-4,[[-79,5],[-78,9],[-74,9],[-74,5],[-76,4]]],
 [-4,[[-44,32],[-44,26],[-40,16],[-37,8],[-35,1],[-30,-4],[-22,-6],[-12,-5.5],[-9,-2],[-12,3],[-14,9],[-16,16],[-5,16.5],[7,21.5],[9,30],[-8,32]]],
 [-4,[[20,-10],[20,0],[21,6],[28,10],[37,8],[38,3],[41,-3],[44,-12],[22,-12]]],
 [-4,[[-7,-12],[-6,-5],[2,-2],[10,-7],[14,-12]]],
 [-4,[[56,16],[58,19],[60,18],[59,16]]],
 [-4,[[76,-3],[76,4],[82,8.5],[92,9],[92,-12],[80,-8]]],
 [-4,[[52,-12],[53,-3],[60,0],[66,0],[72,-3],[74,-8],[76,-12]]],
 [-4,[[80,32],[82,28],[88,22],[92,22],[92,32]]],
 [-6,[[-36,12],[-35,16],[-31,19],[-29,17],[-31,12.5]]],
 [-6,[[-30,0],[-29,7],[-24,9.5],[-17,7],[-14,2],[-15,-2],[-20,-3],[-27,-2]]],
 [-6,[[56,-12],[57,-6],[62,-3.5],[66,-6],[70,-12]]],
 [-8,[[-24,1],[-24,5],[-20,6.5],[-17,3.5],[-17,0],[-20,-1.5]]],
 [-8,[[60,-12],[61,-8],[66,-7],[72,-12]]],
 [-10,[[-22,1],[-21,3.5],[-20,3.5],[-20,1],[-21,0.5]]],
 [2,[[-92,3],[-85,3],[-82,-12],[-92,-12]]],
 [2,[[-44,-12],[-38,-9],[-30,-12]]],
 [4,[[-92,-6],[-88,-8],[-86,-12],[-92,-12]]]
];
const oct11Lines = [
 ['kelvin',0,[[-28.3,-10],[-35,-1.6],[-35,2.2],[-28.3,13.6],[-27.6,20.3],[-18.8,24],[-7.9,25],[-1,27.9],[8.4,28.9],[16.6,23.1],[26,16.5],[29,9.8],[34.2,-0.7],[39.7,-4.5],[47.9,-7.3],[51.2,-10]]],
 ['kelvin',0,[[-6,-10],[-5,-7.3],[1.6,-2],[8.4,-3.5],[13.9,-7.3],[14.5,-10]]],
 ['kelvin',0,[[83.4,30],[90,21.7]]],
 ['mjo',0,[[73.6,-10],[66.8,2.2],[58.7,10.8],[54.6,18.4],[54.6,25],[58.7,29],[65.5,29.6]]],
 ['mjo',0,[[90,7.9],[85.9,7.9],[83.8,6],[85.9,2.2],[90,-1.6]]],
 ['low',0,[[-68.3,-10],[-67,-5.4],[-59.5,-4],[-52.7,-5],[-43.9,-10]]],
 ['low',0,[[-17.4,-10],[-20,-6.4],[-26.9,-2.6],[-28.3,0.8],[-23.5,4.6],[-14.7,5],[-6.5,-2.6],[1.6,-9.2]]],
 ['low',0,[[0,30],[-1,23.1],[5.7,19.5],[16.6,22.2],[22,30]]],
 ['er',0,[[49.2,-10],[39.7,-5.4],[33,-5],[22,-5.9],[19.3,-2.6],[20.7,4.1],[28.8,8.9],[39.7,16.5],[47.8,21.2],[58.7,21.7],[62.5,18.4],[60,11.7],[58.7,6],[61.4,0.3],[68.2,-10]]],
 ['er',1,[[-31.7,5.5],[-29,7.9],[-25.6,6],[-24.9,3.6],[-28.3,2.7]]],
 ['er',0,[[-89.4,16.3],[-86.7,14],[-89.4,11.7]]]
];
const oct11Storms = [];

/* ---------- 12-Oct ---------- */
const oct12Fill = [
 [-2,[[-92,32],[-67,32],[-67,25],[-60,19],[-59,12],[-62,6],[-66,0],[-70,-3],[-74,-4],[-74,-12],[-85,-12],[-84,-2],[-90,4],[-92,4]]],
 [-2,[[-38,32],[-37,26],[-30,25.5],[-23,28],[-21,32]]],
 [-2,[[-39,15],[-37,21],[-34,23],[-33,18],[-37,14]]],
 [-2,[[-36,2],[-33,8],[-26,9],[-20,6],[-8,4],[0,7],[8,8],[15,14],[22,15],[32,14],[42,12],[47,7],[50,0],[58,-2],[65,-5],[72,-12],[-19,-12],[-22,-5],[-30,-3],[-36,-1]]],
 [-2,[[-12,19],[-10,24],[0,26],[8,23],[15,20],[15,14],[5,14],[-5,13],[-12,14]]],
 [-2,[[57,32],[54,26],[59,21],[62,25],[78,25],[92,20],[92,32]]],
 [-2,[[50,22],[47,14],[52,5],[56,0],[60,0],[59,10],[58,18],[56,24]]],
 [-2,[[80,0],[78,5],[83,10],[92,13],[92,-5],[85,-3]]],
 [2,[[-62,-12],[-60,-4],[-56,4],[-54,13],[-49,17],[-44,14],[-40,5],[-38,-2],[-35,-5],[-36,-8],[-27,-10],[-19,-11],[-19,-12]]],
 [2,[[-92,-3],[-88,-6],[-85,-12],[-92,-12]]],
 [2,[[68,1.8],[69,6.5],[70.5,6],[70.5,2]]],
 [2,[[75,-12],[78,-5],[82,-6],[84,-12]]],
 [4,[[-51,-12],[-51,-2],[-50,6],[-47,11],[-44,8],[-42,-2],[-41,-12]]],
 [-4,[[-80,5],[-81,14],[-78,18.5],[-74,17],[-71,13],[-70,7],[-73,3],[-78,4]]],
 [-4,[[-78.5,-12],[-78,-6],[-74.5,-7],[-74,-12]]],
 [-4,[[-33,-1],[-33,4],[-29,5.5],[-26,4],[-27,0],[-30,-2]]],
 [-4,[[-11,-12],[-11,-3],[-3,-2.5],[5,-4],[9,-9],[9,-12]]],
 [-4,[[23,2],[25,4],[26.5,3],[25,0.5]]],
 [-4,[[55,15],[58,18],[59,16],[57,14.5]]],
 [-4,[[45,-12],[48,-6],[53,-3],[60,-3],[66,-6],[72,-12]]],
 [-4,[[89,-6],[92,0],[92,-8]]],
 [-6,[[53,-12],[56,-8],[61,-7],[66,-12]]],
 [-8,[[58,-12],[60,-10],[62,-12]]]
];
const oct12Lines = [
 ['kelvin',0,[[-18.8,-10],[-23.5,-1.6],[-22.8,6],[-16.7,13.6],[-14.7,20.8],[-9.2,24],[-1,25],[11.1,27],[22,23.6],[27.4,21.2],[35.6,19.3],[37.6,14.6],[39.7,8.9],[46.5,0.3],[53.3,-4.5],[61.4,-10]]],
 ['kelvin',0,[[5,-10],[11.8,-1.1],[19.3,-1.1],[26,-5.4],[27.2,-10]]],
 ['kelvin',0,[[-78.5,30],[-76,29],[-73,30]]],
 ['mjo',0,[[79,-10],[68.2,5],[60.7,15.5],[60.7,21.2],[65.5,25.5],[75,30]]],
 ['mjo',0,[[-90,24],[-86,26],[-85.5,30]]],
 ['mjo',0,[[90,6.5],[88.6,5],[90,2.7]]],
 ['low',0,[[-67.7,-10],[-66.3,-6.4],[-60.2,-4.7],[-54,-5.4],[-45.2,-10]]],
 ['low',0,[[-17.4,-10],[-21.5,-5.4],[-28.3,-0.6],[-26.9,3.2],[-18.8,5.9],[-12.6,4.6],[-6.5,-4.4],[1.6,-9.2]]],
 ['low',0,[[-1,28.9],[-1.8,23.1],[5.7,19],[19.3,22.2],[23,29.9]]],
 ['er',0,[[66.2,-10],[53.3,3.2],[55.3,12.7],[58.4,18.4],[54.6,21.7],[45.1,19.8],[37,15.5],[22,5],[18,-2.6],[22,-6.4],[35.6,-5],[41,-5.4],[45.8,-10]]],
 ['er',1,[[-35,5.5],[-32.4,7.9],[-27.6,5.5],[-27.6,3.2],[-31,2.2],[-35,4.1]]],
 ['er',0,[[-89.4,17.9],[-86,14.6],[-89.4,10.3]]]
];
const oct12Storms = [];

const panelFills = [oct5Fill,oct6Fill,oct7Fill,oct8Fill,oct9Fill,oct10Fill,oct11Fill,oct12Fill];
const panelLines = [oct5Lines,oct6Lines,oct7Lines,oct8Lines,oct9Lines,oct10Lines,oct11Lines,oct12Lines];
const panelStorms = [oct5Storms,oct6Storms,oct7Storms,oct8Storms,oct9Storms,oct10Storms,oct11Storms,oct12Storms];

/* ---------- drawing ---------- */
const NS = 'http://www.w3.org/2000/svg';
const LON_SCALE = 3.517, LAT_SCALE = 3.5;
const colLeft = [102.5, 845];
const rowTop = [39, 264, 489, 714];

function mk(tag, attrs, parent) {
  const el = document.createElementNS(NS, tag);
  for (const k in attrs) el.setAttribute(k, attrs[k]);
  parent.appendChild(el);
  return el;
}
function unitDir(a, b) {
  const dx = b[0] - a[0], dy = b[1] - a[1];
  const m = Math.hypot(dx, dy) || 1;
  return [dx / m, dy / m];
}
function spline(pts, closed) {
  const n = pts.length;
  if (n < 2) return '';
  const at = i => closed ? pts[(i + n) % n] : pts[Math.max(0, Math.min(n - 1, i))];
  let d = 'M' + pts[0][0].toFixed(1) + ' ' + pts[0][1].toFixed(1);
  const last = closed ? n : n - 1;
  for (let i = 0; i < last; i++) {
    const p0 = at(i - 1), p1 = at(i), p2 = at(i + 1), p3 = at(i + 2);
    const seg = Math.hypot(p2[0] - p1[0], p2[1] - p1[1]) / 3;
    const t1 = unitDir(p0, p2), t2 = unitDir(p1, p3);
    const c1x = p1[0] + t1[0] * seg, c1y = p1[1] + t1[1] * seg;
    const c2x = p2[0] - t2[0] * seg, c2y = p2[1] - t2[1] * seg;
    d += 'C' + c1x.toFixed(1) + ' ' + c1y.toFixed(1) + ' ' + c2x.toFixed(1) + ' ' + c2y.toFixed(1) + ' ' + p2[0].toFixed(1) + ' ' + p2[1].toFixed(1);
  }
  return closed ? d + 'Z' : d;
}

const panelsRoot = document.getElementById('panels');
panelDates.forEach((date, idx) => {
  const col = idx < 4 ? 0 : 1;
  const row = idx % 4;
  const left = colLeft[col], top = rowTop[row];
  const xAxis = lon => left + (lon + 90) * LON_SCALE;
  const yAxis = lat => top + (30 - lat) * LAT_SCALE;
  const w = xAxis(90) - left, h = yAxis(-10) - top;
  const toPx = p => [xAxis(p[0]), yAxis(p[1])];

  const g = mk('g', {}, panelsRoot);
  
  

  const clip = mk('clipPath', {id: 'clip' + idx}, g);
  mk('rect', {x: left, y: top, width: w, height: h}, clip);

  const map = mk('g', {'clip-path': 'url(#clip' + idx + ')'}, g);
  const bg = mk('rect', {x: left, y: top, width: w, height: h, fill: levelColors['0']}, map);
  
  

  panelFills[idx].forEach(f => {
    const el = mk('path', {d: spline(f[1].map(toPx), true), fill: levelColors[String(f[0])]}, map);
    
    
  });

  coastlines.concat(countryBorders).forEach(c => {
    const el = mk('polyline', {points: c.map(p => toPx(p).map(v => v.toFixed(1)).join(',')).join(' '), fill: 'none', stroke: '#666', 'stroke-width': 1.6, 'stroke-linejoin': 'round'}, map);
    
    
  });

  const eq = mk('line', {x1: left, x2: left + w, y1: yAxis(0), y2: yAxis(0), stroke: '#555', 'stroke-width': 1.4, 'stroke-dasharray': '5 5'}, map);
  
  
  const pm = mk('line', {x1: xAxis(0), x2: xAxis(0), y1: yAxis(5), y2: yAxis(-10), stroke: '#555', 'stroke-width': 1.2, 'stroke-dasharray': '5 4'}, map);
  
  

  panelLines[idx].forEach(s => {
    const el = mk('path', {d: spline(s[2].map(toPx), !!s[1]), fill: 'none', stroke: seriesColors[s[0]], 'stroke-width': 2}, map);
    
    
  });

  panelStorms[idx].forEach(st => {
    const px = xAxis(st[1]), py = yAxis(st[2]);
    const sg = mk('g', {}, map);
    
    
    mk('ellipse', {cx: px, cy: py, rx: 5.5, ry: 9.5, fill: '#d81a10', stroke: '#000', 'stroke-width': 1.4}, sg);
    const t = mk('text', {x: px, y: py + 3, 'font-size': 8, 'font-weight': 700, fill: '#fff', 'text-anchor': 'middle'}, sg);
    t.textContent = st[0];
  });

  /* ticks */
  const ticks = mk('g', {stroke: '#000', fill: 'none'}, g);
  
  
  for (let lon = -90; lon <= 90; lon += 10) {
    const major = lonTickValues.includes(lon);
    const len = major ? 6 : 3;
    mk('line', {x1: xAxis(lon), x2: xAxis(lon), y1: top - len, y2: top, 'stroke-width': major ? 2.5 : 1.4}, ticks);
    mk('line', {x1: xAxis(lon), x2: xAxis(lon), y1: top + h, y2: top + h + len, 'stroke-width': major ? 2.5 : 1.4}, ticks);
  }
  for (let lon = -90; lon <= 90; lon += 2) {
    mk('line', {x1: xAxis(lon), x2: xAxis(lon), y1: top + h, y2: top + h + 1.5, 'stroke-width': 1}, ticks);
    mk('line', {x1: xAxis(lon), x2: xAxis(lon), y1: top - 1.5, y2: top, 'stroke-width': 1}, ticks);
  }
  for (let lat = -10; lat <= 30; lat += 2) {
    mk('line', {x1: left - 1.5, x2: left + 1.5, y1: yAxis(lat), y2: yAxis(lat), 'stroke-width': 1}, ticks);
    mk('line', {x1: left + w - 1.5, x2: left + w + 1.5, y1: yAxis(lat), y2: yAxis(lat), 'stroke-width': 1}, ticks);
  }
  latTickValues.forEach(lat => {
    mk('line', {x1: left - 4, x2: left + 2, y1: yAxis(lat), y2: yAxis(lat), 'stroke-width': 2}, ticks);
    mk('line', {x1: left + w - 2, x2: left + w + 3, y1: yAxis(lat), y2: yAxis(lat), 'stroke-width': 2}, ticks);
  });

  const frame = mk('rect', {x: left, y: top, width: w, height: h, fill: 'none', stroke: '#000', 'stroke-width': 3}, g);
  
  

  const dateLabel = mk('text', {x: left - 1.5, y: top - 7, 'font-size': 35, textLength: date.length > 5 ? 103 : 85, lengthAdjust: 'spacingAndGlyphs'}, g);
  
  
  dateLabel.textContent = date;

  if (col === 0) {
    latTickValues.forEach((lat, i) => {
      const t = mk('text', {x: 74, y: yAxis(lat) + 13, 'font-size': 35, 'text-anchor': 'end'}, g);
      
      
      t.textContent = latTickLabels[i];
    });
  }
  if (row === 0) {
    const rt = mk('text', {x: left + w + 1.5, y: top - 7, 'font-size': 35, 'text-anchor': 'end'}, g);
    
    
    rt.textContent = col === 0 ? 'Observed' : 'CFS Forecast';
  }
  if (row === 3) {
    lonTickValues.forEach((lon, i) => {
      const t = mk('text', {x: xAxis(lon), y: 911, 'font-size': 35, 'text-anchor': 'middle'}, g);
      
      
      t.textContent = lonTickLabels[i];
    });
  }
});

/* colorbar */
const cbRoot = document.getElementById('colorbar');
const cbLeft = 229.5, cbTop = 972, cbH = 23, cbStep = 54.85;
colorbarLevels.forEach((lv, i) => {
  const el = mk('rect', {x: cbLeft + i * cbStep, y: cbTop, width: cbStep, height: cbH, fill: levelColors[String(lv)], stroke: '#222', 'stroke-width': 1.4}, cbRoot);
  
  
});
colorbarTicks.forEach((v, i) => {
  const el = mk('text', {x: cbLeft + (i + 1) * cbStep, y: 1023, 'font-size': 29, 'text-anchor': 'middle'}, cbRoot);
  
  
  el.textContent = String(v);
});
</script>
</body>
</html>
